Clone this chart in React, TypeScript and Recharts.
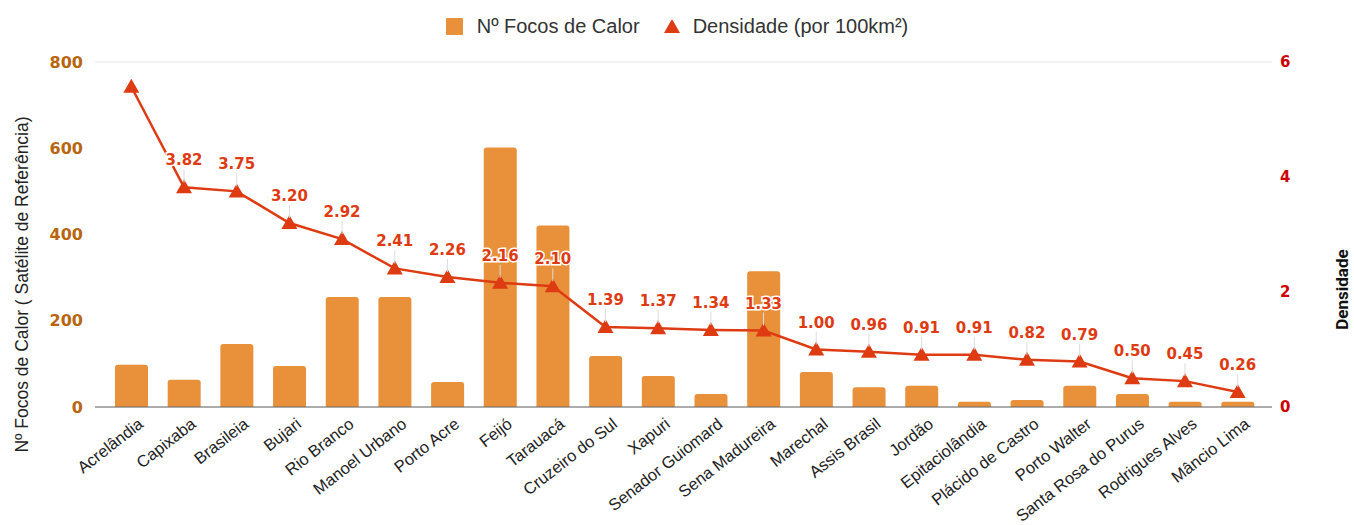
import React from 'react';
import { Bar, ComposedChart, CartesianGrid, Label, Legend, Line, XAxis, YAxis } from 'recharts';

const municipios = [
  'Acrelândia', 'Capixaba', 'Brasileia', 'Bujari', 'Rio Branco', 'Manoel Urbano', 'Porto Acre',
  'Feijó', 'Tarauacá', 'Cruzeiro do Sul', 'Xapuri', 'Senador Guiomard', 'Sena Madureira',
  'Marechal', 'Assis Brasil', 'Jordão', 'Epitaciolândia', 'Plácido de Castro', 'Porto Walter',
  'Santa Rosa do Purus', 'Rodrigues Alves', 'Mâncio Lima',
];
const focos = [98, 63, 146, 95, 255, 255, 58, 602, 421, 118, 72, 30, 315, 81, 46, 49, 12, 16, 49, 30, 12, 12];
const densidade = [5.57, 3.82, 3.75, 3.2, 2.92, 2.41, 2.26, 2.16, 2.1, 1.39, 1.37, 1.34, 1.33, 1.0, 0.96, 0.91, 0.91, 0.82, 0.79, 0.5, 0.45, 0.26];
const focosTicks = [0, 200, 400, 600, 800];
const densTicks = [0, 2, 4, 6];

const data = municipios.map((nome, i) => ({ nome, focos: focos[i], densidade: densidade[i] }));

const ORANGE = '#e8913a';
const RED = '#de3b13';
const ARIAL = '"Liberation Sans", Arial, sans-serif';
const VERDANA = '"DejaVu Sans", Verdana, sans-serif';

const CategoryTick = ({ x, y, payload }: any) => (
  <g transform={`translate(${x + 13},${y + 11}) rotate(-38)`}>
    <text textAnchor="end" fontSize={16.5} fontFamily={ARIAL} fill="#222">
      {payload.value}
    </text>
  </g>
);

const Triangle = ({ cx, cy }: any) => (
  <polygon points={`${cx},${cy - 8} ${cx - 8},${cy + 6} ${cx + 8},${cy + 6}`} fill={RED} />
);

const DensLabel = ({ x, y, value, index }: any) => {
  if (index === 0) return null;
  return (
    <g>
      <line x1={x} x2={x} y1={y - 18} y2={y - 5} stroke="#dcdcdc" strokeWidth={1} />
      <text
        x={x}
        y={y - 22}
        textAnchor="middle"
        fontSize={15}
        fontWeight="bold"
        fontFamily={VERDANA}
        fill={RED}
        stroke="#fff"
        strokeWidth={3}
        paintOrder="stroke"
      >
        {Number(value).toFixed(2)}
      </text>
    </g>
  );
};

const ChartLegend = () => (
  <div
    style={{
      height: 58,
      paddingTop: 11,
      boxSizing: 'border-box',
      display: 'flex',
      justifyContent: 'center',
      alignItems: 'flex-start',
      fontFamily: ARIAL,
      fontSize: 20,
      color: '#333',
      lineHeight: '22px',
    }}
  >
    <span style={{ display: 'flex', alignItems: 'center', marginRight: 24 }}>
      <span style={{ width: 17, height: 17, background: ORANGE, marginRight: 14, borderRadius: 1 }} />
      Nº Focos de Calor
    </span>
    <span style={{ display: 'flex', alignItems: 'center' }}>
      <svg width={16} height={14} style={{ marginRight: 13 }}>
        <polygon points="8,0 0,14 16,14" fill={RED} />
      </svg>
      Densidade (por 100km²)
    </span>
  </div>
);

export default function App() {
  return (
    <div style={{ position: 'absolute', left: 0, top: 0, background: '#fff' }}>
      <ComposedChart width={1354} height={525} data={data} margin={{ top: 4, right: 0, bottom: 8, left: 0 }}>
        <Legend verticalAlign="top" content={ChartLegend} />
        <CartesianGrid vertical={false} stroke="#e6e6e6" />
        <XAxis
          dataKey="nome"
          interval={0}
          height={110}
          padding={{ left: 10, right: 8 }}
          tick={<CategoryTick />}
          tickLine={false}
          axisLine={{ stroke: '#666' }}
        />
        <YAxis
          yAxisId="left"
          width={95}
          domain={[0, 800]}
          ticks={focosTicks}
          tickLine={false}
          axisLine={false}
          tickMargin={6}
          tick={{ fill: '#b8650f', fontSize: 16, fontWeight: 'bold', fontFamily: VERDANA }}
        >
          <Label
            content={({ viewBox }: any) => (
              <text
                transform={`translate(${viewBox.x + 22},${viewBox.y + viewBox.height / 2 + 50}) rotate(-90)`}
                textAnchor="middle"
                dominantBaseline="central"
                fontSize={17.5}
                fontFamily={ARIAL}
                fill="#222"
              >
                Nº Focos de Calor ( Satélite de Referência)
              </text>
            )}
          />
        </YAxis>
        <YAxis
          yAxisId="right"
          orientation="right"
          width={82}
          domain={[0, 6]}
          ticks={densTicks}
          tickLine={false}
          axisLine={false}
          tick={{ fill: '#cc0000', fontSize: 15, fontWeight: 'bold', fontFamily: VERDANA }}
        >
          <Label
            content={({ viewBox }: any) => (
              <text
                transform={`translate(${viewBox.x + 70},${viewBox.y + viewBox.height / 2 + 55}) rotate(-90)`}
                textAnchor="middle"
                dominantBaseline="central"
                fontSize={17}
                fontWeight="bold"
                fontFamily="Roboto, sans-serif"
                fill="#111"
              >
                Densidade
              </text>
            )}
          />
        </YAxis>
        <Bar
          yAxisId="left"
          dataKey="focos"
          fill={ORANGE}
          barSize={33}
          radius={[3, 3, 0, 0]}
          isAnimationActive={false}
        />
        <Line
          yAxisId="right"
          dataKey="densidade"
          stroke={RED}
          strokeWidth={2.5}
          dot={<Triangle />}
          activeDot={false}
          label={<DensLabel />}
          isAnimationActive={false}
        />
      </ComposedChart>
    </div>
  );
}
